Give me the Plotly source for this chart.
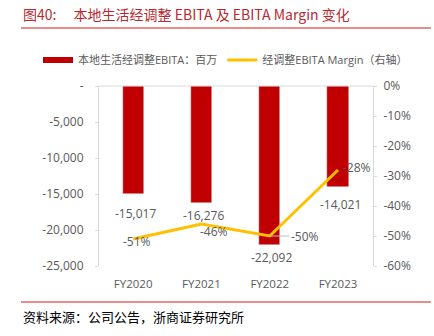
import plotly.graph_objects as go

categories = ["FY2020", "FY2021", "FY2022", "FY2023"]
ebita = [-15017, -16276, -22092, -14021]
margin = [-0.51, -0.46, -0.50, -0.28]
ebita_labels = ["-15,017", "-16,276", "-22,092", "-14,021"]
margin_labels = ["-51%", "-46%", "-50%", "-28%"]
left_ticks = [0, -5000, -10000, -15000, -20000, -25000]
left_ticktext = ["-", "-5,000", "-10,000", "-15,000", "-20,000", "-25,000"]
right_ticks = [0, -0.1, -0.2, -0.3, -0.4, -0.5, -0.6]
right_ticktext = ["0%", "-10%", "-20%", "-30%", "-40%", "-50%", "-60%"]

RED = "#C00000"
YEL = "#FFC000"
GREY = "#595959"
FONT = "Open Sans, Noto Sans CJK SC"
CJK = "Noto Sans CJK SC"

fig = go.Figure()
fig.add_trace(go.Bar(x=categories, y=ebita, marker_color=RED, width=0.31,
                     showlegend=False, name="bar"))
fig.add_trace(go.Scatter(x=[None], y=[None], mode="lines",
                         line=dict(color=RED, width=6),
                         name="本地生活经调整EBITA：百万"))
fig.add_trace(go.Scatter(x=categories, y=margin, yaxis="y2", mode="lines",
                         line=dict(color=YEL, width=3),
                         name="经调整EBITA Margin（右轴）"))

ann = []
bar_shift = [-19, -12, -12, -18]
for c, v, t, s in zip(categories, ebita, ebita_labels, bar_shift):
    ann.append(dict(x=c, y=v, text=t, showarrow=False, yshift=s,
                    xshift=2, font=dict(size=12, color=GREY, family=FONT)))
m_shift = [(4, -2), (13, -7), (None, None), (19, 3)]
for i, (c, v, t) in enumerate(zip(categories, margin, margin_labels)):
    if i == 2:
        ann.append(dict(x=c, y=v, yref="y2", text=t, showarrow=True,
                        arrowhead=0, arrowcolor="#BFBFBF", arrowwidth=1,
                        ax=35, ay=0, standoff=0,
                        font=dict(size=12, color=GREY, family=FONT)))
    else:
        xs, ys = m_shift[i]
        ann.append(dict(x=c, y=v, yref="y2", text=t, showarrow=False,
                        xshift=xs, yshift=ys,
                        font=dict(size=12, color=GREY, family=FONT)))

ann.append(dict(xref="paper", yref="paper", x=(21 - 99) / 274, y=(266 - 14) / 180,
                xanchor="left", yanchor="middle", showarrow=False,
                text="图40:\u2003 本地生活经调整 EBITA 及 EBITA Margin 变化",
                font=dict(size=14, color="#B8292F", family=CJK)))
ann.append(dict(xref="paper", yref="paper", x=(21 - 99) / 274, y=(266 - 316) / 180,
                xanchor="left", yanchor="middle", showarrow=False,
                text="资料来源：公司公告，浙商证券研究所",
                font=dict(size=13, color="#000000", family=CJK)))

shapes = [
    dict(type="line", xref="paper", yref="paper", x0=(21 - 99) / 274, x1=(431 - 99) / 274,
         y0=(266 - 28) / 180, y1=(266 - 28) / 180, line=dict(color="#E06666", width=1.5)),
    dict(type="line", xref="paper", yref="paper", x0=(21 - 99) / 274, x1=(431 - 99) / 274,
         y0=(266 - 302) / 180, y1=(266 - 302) / 180, line=dict(color="#E06666", width=1.5)),
    dict(type="line", xref="paper", yref="paper", x0=0, x1=1, y0=1, y1=1,
         line=dict(color="#D9D9D9", width=1)),
]

fig.update_layout(
    width=434, height=336,
    margin=dict(l=99, r=61, t=86, b=70),
    paper_bgcolor="white", plot_bgcolor="white",
    font=dict(family=FONT, size=11, color=GREY),
    bargap=0,
    xaxis=dict(showgrid=False, showline=False, ticks="", ticklabelstandoff=9,
               tickfont=dict(size=11.5, color=GREY)),
    yaxis=dict(range=[-25000, 0], tickvals=left_ticks, ticktext=left_ticktext,
               showgrid=False, zeroline=False, showline=True, linecolor="#D9D9D9",
               ticks="outside", ticklen=3, tickcolor="#D9D9D9", ticklabelstandoff=9,
               tickfont=dict(size=12, color=GREY)),
    yaxis2=dict(range=[-0.6, 0], overlaying="y", side="right",
                tickvals=right_ticks, ticktext=right_ticktext,
                showgrid=False, zeroline=False, showline=True, linecolor="#D9D9D9",
                ticks="outside", ticklen=3, tickcolor="#D9D9D9", ticklabelstandoff=4,
                tickfont=dict(size=12, color=GREY)),
    legend=dict(orientation="h", x=(38 - 99) / 274, y=(266 - 60) / 180,
                xanchor="left", yanchor="middle", itemwidth=30,
                font=dict(size=11, color=GREY, family=FONT),
                bgcolor="rgba(0,0,0,0)"),
    annotations=ann,
    shapes=shapes,
)

fig.write_html("out.html")
